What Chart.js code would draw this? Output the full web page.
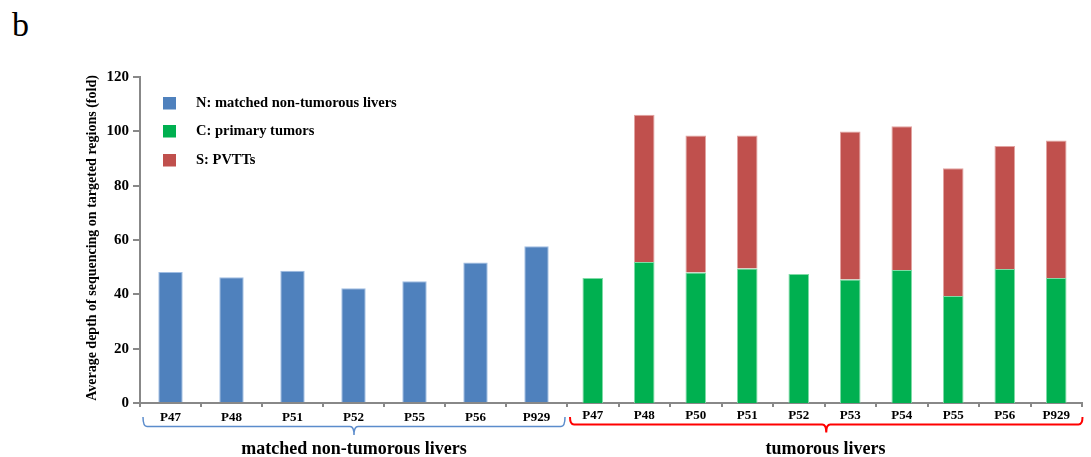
<!DOCTYPE html>
<html>
<head>
<meta charset="utf-8">
<script src="https://cdn.jsdelivr.net/npm/chart.js@4.4.1/dist/chart.umd.min.js"></script>
<style>
  html, body { margin: 0; padding: 0; background: #fff; }
  #wrap { position: relative; width: 1091px; height: 457px; overflow: hidden; }
  #wrap canvas { position: absolute; top: 0; }
  #panel { position: absolute; left: 12px; top: 8px; font: 34px 'Liberation Serif', serif; line-height: 34px; color: #000; }
</style>
</head>
<body>
<div id="wrap">
  <div id="panel">b</div>
  <canvas id="normal" width="567" height="457" style="left:0"></canvas>
  <canvas id="tumor" width="524" height="457" style="left:567px"></canvas>
</div>
<script>
// Samples
const categoriesN = ['P47', 'P48', 'P51', 'P52', 'P55', 'P56', 'P929'];
const categoriesT = ['P47', 'P48', 'P50', 'P51', 'P52', 'P53', 'P54', 'P55', 'P56', 'P929'];

// Average sequencing depth (fold)
const depthN = [48.2, 46.3, 48.7, 42.2, 44.8, 51.7, 57.7];
const depthC = [46.0, 51.9, 48.0, 49.5, 47.5, 45.5, 49.0, 39.4, 49.3, 46.0];
const depthS = [null, 54.2, 50.5, 49.0, null, 54.4, 52.9, 47.0, 45.3, 50.6];

const yTicks = [0, 20, 40, 60, 80, 100, 120];

const seriesLabels = ['N: matched non-tumorous livers', 'C: primary tumors', 'S: PVTTs'];
const groupLabels = ['matched non-tumorous livers', 'tumorous livers'];
const yTitle = 'Average depth of sequencing on targeted regions (fold)';

const COLORS = { N: '#4F81BD', C: '#00B050', S: '#C0504D' };
const EDGE = { N: '#9fbde3', C: '#7fdba6', S: '#e2a3a1' };
const AXIS = '#888888';
const SERIF = "'Liberation Serif', 'Times New Roman', serif";

function drawBrace(ctx, x1, x2, yTop, yLine, yTip, color, width) {
  const xc = (x1 + x2) / 2, r = 4;
  ctx.save();
  ctx.strokeStyle = color;
  ctx.lineWidth = width;
  ctx.beginPath();
  ctx.moveTo(x1, yTop);
  ctx.quadraticCurveTo(x1, yLine, x1 + r, yLine);
  ctx.lineTo(xc - r, yLine);
  ctx.quadraticCurveTo(xc, yLine, xc, yTip);
  ctx.quadraticCurveTo(xc, yLine, xc + r, yLine);
  ctx.lineTo(x2 - r, yLine);
  ctx.quadraticCurveTo(x2, yLine, x2, yTop);
  ctx.stroke();
  ctx.restore();
}

function groupCaption(ctx, text, x, y) {
  ctx.save();
  ctx.font = 'bold 18px ' + SERIF;
  ctx.fillStyle = '#000';
  ctx.textAlign = 'center';
  ctx.textBaseline = 'alphabetic';
  ctx.fillText(text, x, y);
  ctx.restore();
}

// y axis title, legend and group brace for the non-tumorous panel
const normalDecor = {
  id: 'normalDecor',
  afterDraw(chart) {
    const { ctx, chartArea } = chart;
    // rotated axis title
    ctx.save();
    ctx.font = 'bold 14px ' + SERIF;
    ctx.fillStyle = '#000';
    ctx.textAlign = 'center';
    ctx.textBaseline = 'middle';
    ctx.translate(92.5, 238);
    ctx.rotate(-Math.PI / 2);
    ctx.fillText(yTitle, 0, 0);
    ctx.restore();

    // legend
    const keys = ['N', 'C', 'S'];
    const rows = [103, 131, 160];
    ctx.save();
    ctx.font = 'bold 14.5px ' + SERIF;
    ctx.textBaseline = 'middle';
    ctx.textAlign = 'left';
    keys.forEach((k, i) => {
      ctx.fillStyle = COLORS[k];
      ctx.fillRect(chartArea.left + 23, rows[i] - 6, 13, 12.5);
      ctx.fillStyle = '#000';
      ctx.fillText(seriesLabels[i], chartArea.left + 56, rows[i] + 0.5);
    });
    ctx.restore();

    const b = chartArea.bottom;
    drawBrace(ctx, chartArea.left + 3, chartArea.right - 2, b + 14, b + 23.5, b + 32, '#5b8ccc', 1.5);
    groupCaption(ctx, groupLabels[0], (chartArea.left + chartArea.right) / 2 + 0.5, b + 51);
  }
};

const tumorDecor = {
  id: 'tumorDecor',
  afterDraw(chart) {
    const { ctx, chartArea } = chart;
    const b = chartArea.bottom;
    drawBrace(ctx, chartArea.left + 3, chartArea.right + 0.5, b + 14, b + 21.5, b + 29.5, '#ff0000', 2);
    groupCaption(ctx, groupLabels[1], (chartArea.left + chartArea.right) / 2 + 1, b + 51);
  }
};

function xScale(tickPad) {
  return {
    type: 'category',
    stacked: true,
    offset: true,
    afterFit(scale) { scale.height = 54; },
    grid: {
      offset: true,
      drawOnChartArea: false,
      drawTicks: true,
      tickLength: 4,
      color: AXIS,
      lineWidth: 2
    },
    border: { display: true, color: AXIS, width: 2 },
    ticks: {
      color: '#000',
      font: { family: SERIF, size: 13, weight: 'bold' },
      padding: tickPad,
      maxRotation: 0,
      autoSkip: false
    }
  };
}

function yScale(show) {
  return {
    type: 'linear',
    stacked: true,
    min: 0,
    max: 120,
    display: show,
    afterFit(scale) { scale.width = show ? 140 : 0; },
    afterBuildTicks(scale) { scale.ticks = yTicks.map(v => ({ value: v })); },
    grid: {
      drawOnChartArea: false,
      drawTicks: true,
      tickLength: 7,
      color: AXIS,
      lineWidth: 2
    },
    border: { display: true, color: AXIS, width: 2 },
    ticks: {
      color: '#000',
      font: { family: SERIF, size: 15, weight: 'bold' },
      padding: 4
    }
  };
}

const common = {
  responsive: false,
  animation: false,
  devicePixelRatio: 1,
  plugins: { legend: { display: false }, tooltip: { enabled: false } }
};

new Chart(document.getElementById('normal'), {
  type: 'bar',
  data: {
    labels: categoriesN,
    datasets: [{
      label: seriesLabels[0],
      data: depthN,
      backgroundColor: COLORS.N,
      borderColor: EDGE.N,
      borderWidth: 1,
      barPercentage: 0.4,
      categoryPercentage: 1
    }]
  },
  options: Object.assign({}, common, {
    layout: { padding: { top: 77, left: 0, right: 0, bottom: 0 } },
    scales: { x: xScale(2.5), y: yScale(true) }
  }),
  plugins: [normalDecor]
});

new Chart(document.getElementById('tumor'), {
  type: 'bar',
  data: {
    labels: categoriesT,
    datasets: [{
      label: seriesLabels[1],
      data: depthC,
      backgroundColor: COLORS.C,
      borderColor: EDGE.C,
      borderWidth: 1,
      barPercentage: 0.4,
      categoryPercentage: 1
    }, {
      label: seriesLabels[2],
      data: depthS,
      backgroundColor: COLORS.S,
      borderColor: EDGE.S,
      borderWidth: 1,
      barPercentage: 0.4,
      categoryPercentage: 1
    }]
  },
  options: Object.assign({}, common, {
    layout: { padding: { top: 77, left: 0, right: 9, bottom: 0 } },
    scales: { x: xScale(0.5), y: yScale(false) }
  }),
  plugins: [tumorDecor]
});
</script>
</body>
</html>
